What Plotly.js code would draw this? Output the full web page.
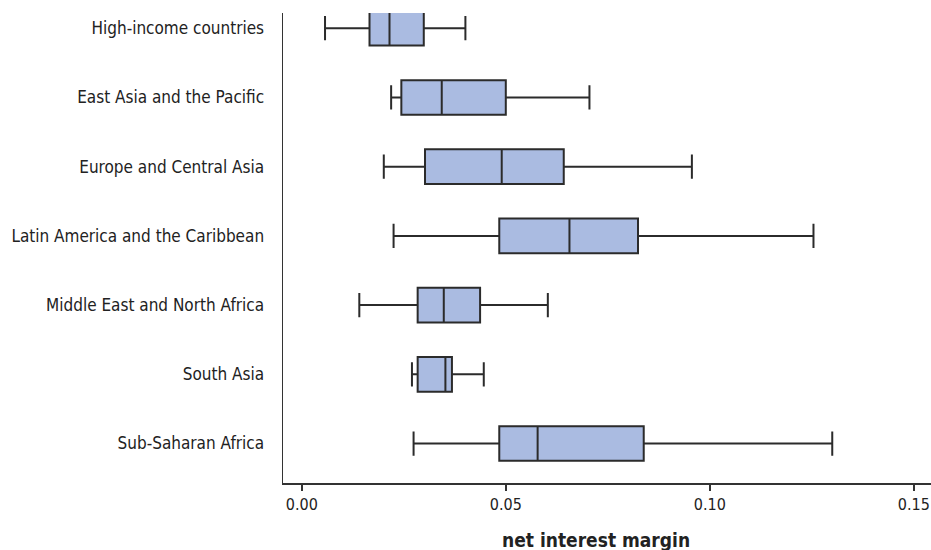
<!DOCTYPE html>
<html>
<head>
<meta charset="utf-8">
<script src="https://cdn.plot.ly/plotly-3.0.1.min.js"></script>
<style>html,body{margin:0;padding:0;background:#fff;}#chart{width:931px;height:550px;}</style>
</head>
<body>
<div id="chart"></div>
<script>
const regions = ["High-income countries", "East Asia and the Pacific", "Europe and Central Asia",
  "Latin America and the Caribbean", "Middle East and North Africa", "South Asia", "Sub-Saharan Africa"];
const lowerWhisker = [0.0057, 0.0219, 0.0201, 0.0225, 0.0141, 0.0270, 0.0274];
const q1Values     = [0.0166, 0.0244, 0.0302, 0.0484, 0.0284, 0.0284, 0.0484];
const medianValues = [0.0215, 0.0343, 0.0490, 0.0656, 0.0348, 0.0352, 0.0578];
const q3Values     = [0.0299, 0.0500, 0.0642, 0.0824, 0.0437, 0.0368, 0.0838];
const upperWhisker = [0.0401, 0.0705, 0.0956, 0.1254, 0.0603, 0.0446, 0.1300];
const xTicks = [0, 0.05, 0.10, 0.15];
const xTickLabels = ["0.00", "0.05", "0.10", "0.15"];
const xTitle = "net interest margin";

const narrow = '"Liberation Sans Narrow", "DejaVu Sans Condensed", "Liberation Sans", sans-serif';

const trace = {
  type: 'box',
  orientation: 'h',
  y: regions,
  q1: q1Values,
  median: medianValues,
  q3: q3Values,
  lowerfence: lowerWhisker,
  upperfence: upperWhisker,
  fillcolor: 'rgb(170,187,225)',
  line: {color: '#2b2b2b', width: 2},
  width: 0.5,
  whiskerwidth: 0.7,
  boxpoints: false,
  hoverinfo: 'skip',
  showlegend: false
};

const layout = {
  width: 931,
  height: 550,
  margin: {l: 283, r: 0, t: 13, b: 67},
  paper_bgcolor: '#fff',
  plot_bgcolor: '#fff',
  font: {family: narrow, color: '#222'},
  xaxis: {
    range: [-0.0046, 0.1542],
    tickvals: xTicks,
    ticktext: xTickLabels,
    ticks: 'outside',
    ticklen: 6,
    tickwidth: 1.5,
    tickcolor: '#333',
    showline: true,
    linecolor: '#333',
    linewidth: 1.5,
    showgrid: false,
    zeroline: false,
    tickfont: {family: narrow, size: 16, color: '#222'}
  },
  yaxis: {
    type: 'category',
    categoryorder: 'array',
    categoryarray: regions,
    range: [6.57, -0.22],
    showline: true,
    linecolor: '#333',
    linewidth: 1.5,
    ticks: '',
    showgrid: false,
    zeroline: false,
    ticklabelstandoff: 14,
    tickfont: {family: narrow, size: 17, color: '#222'}
  },
  annotations: [{
    text: xTitle,
    xref: 'paper', yref: 'paper',
    x: 0.483, y: -0.121,
    xanchor: 'center', yanchor: 'middle',
    showarrow: false,
    font: {family: narrow, size: 19, color: '#222', weight: 'bold'}
  }]
};

Plotly.newPlot('chart', [trace], layout, {displayModeBar: false, staticPlot: true});
</script>
</body>
</html>
